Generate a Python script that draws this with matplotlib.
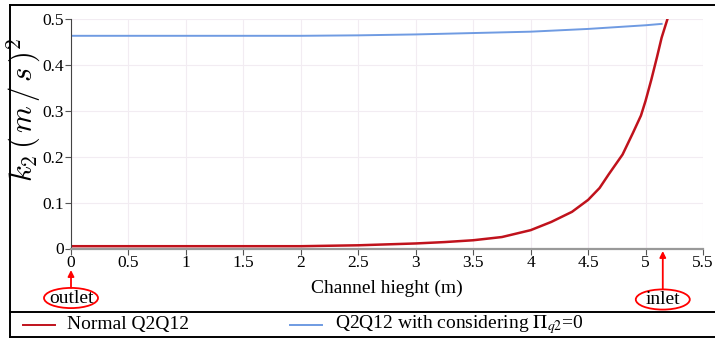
import matplotlib
matplotlib.use("Agg")
import matplotlib.pyplot as plt
from matplotlib.lines import Line2D
from matplotlib.patches import Ellipse

# Channel height (m) and turbulent quantity k2 for the two closures
height_normal = [0.0, 0.5, 1.0, 1.5, 2.0, 2.5, 3.0, 3.25, 3.5, 3.75, 4.0, 4.18,
                 4.36, 4.5, 4.6, 4.68, 4.8, 4.89, 4.96, 5.0, 5.05, 5.1, 5.14, 5.19]
k2_normal = [0.005, 0.005, 0.005, 0.005, 0.005, 0.007, 0.011, 0.014, 0.018, 0.025,
             0.040, 0.058, 0.080, 0.106, 0.132, 0.162, 0.205, 0.252, 0.290, 0.322,
             0.368, 0.418, 0.460, 0.500]

height_pi0 = [0.0, 0.5, 1.0, 1.5, 2.0, 2.5, 3.0, 3.5, 4.0, 4.5, 5.0, 5.14]
k2_pi0 = [0.464, 0.464, 0.464, 0.464, 0.464, 0.465, 0.467, 0.470, 0.473, 0.479,
          0.487, 0.490]

xticks = [0, 0.5, 1, 1.5, 2, 2.5, 3, 3.5, 4, 4.5, 5, 5.5]
xtick_labels = ["0", "0.5", "1", "1.5", "2", "2.5", "3", "3.5", "4", "4.5", "5", "5.5"]
yticks = [0, 0.1, 0.2, 0.3, 0.4, 0.5]
ytick_labels = ["0", "0.1", "0.2", "0.3", "0.4", "0.5"]

series_labels = ["Normal Q2Q12", r"Q2Q12 with considering $\Pi_{q2}$=0"]
red = "#c0121c"
blue = "#6f9be2"

plt.rcParams["font.family"] = ["Liberation Serif", "DejaVu Serif"]
plt.rcParams["mathtext.fontset"] = "stix"

W, H = 715, 342
fig = plt.figure(figsize=(W / 100, H / 100), dpi=100)

def fx(px):
    return px / W

def fy(py):
    return 1 - py / H

ax = fig.add_axes([fx(71), fy(248.5), fx(703) - fx(71), fy(19.3) - fy(248.5)])
ax.plot(height_normal, k2_normal, color=red, lw=1.8, solid_joinstyle="round")
ax.plot(height_pi0, k2_pi0, color=blue, lw=1.4)

ax.set_xlim(0, 5.5)
ax.set_ylim(0, 0.5)
ax.set_xticks(xticks)
ax.set_xticklabels(xtick_labels)
ax.set_yticks(yticks)
ax.set_yticklabels(ytick_labels)
ax.tick_params(axis="both", labelsize=12.5, direction="out", length=4,
               width=0.8, color="#555555", pad=1)
ax.grid(True, color="#f2ecf2", lw=0.8)
ax.set_axisbelow(True)
for s in ("top", "right"):
    ax.spines[s].set_visible(False)
ax.spines["left"].set_color("#444444")
ax.spines["bottom"].set_color("#999999")
ax.spines["bottom"].set_linewidth(1.6)

# Axis titles
fig.text(fx(24), fy(110), r"$k_2\,(\,m\,/\,s\,)^2$", rotation=90, ha="center",
         va="center", fontsize=22, math_fontfamily="cm")
ax.text(0.5, -0.172, "Channel hieght (m)", transform=ax.transAxes,
        ha="center", va="center", fontsize=14)

# Outlet / inlet markers below the axis
xt = ax.get_xaxis_transform()
for xpos, name, ycen, tip in [(0.0, "outlet", -0.216, -0.094), (5.15, "inlet", -0.2225, -0.011)]:
    ax.annotate("", xy=(xpos, tip), xytext=(xpos, ycen + 0.045), xycoords=xt,
                textcoords=xt, annotation_clip=False,
                arrowprops=dict(arrowstyle="-|>", color="red", lw=1.3,
                                mutation_scale=9, shrinkA=0, shrinkB=0))
    ax.add_patch(Ellipse((xpos, ycen), 0.47, 0.088, transform=xt, fill=False,
                         edgecolor="red", lw=1.3, clip_on=False))
    ax.text(xpos, ycen, name, transform=xt, ha="center", va="center", fontsize=14)

# Outer frame and legend strip
frame_kw = dict(color="black", lw=1.4, transform=fig.transFigure)
fig.add_artist(Line2D([fx(10), fx(10)], [fy(5), fy(336.5)], **frame_kw))
fig.add_artist(Line2D([fx(10), 1], [fy(5), fy(5)], **frame_kw))
fig.add_artist(Line2D([fx(10), 1], [fy(312), fy(312)], **frame_kw))
fig.add_artist(Line2D([fx(10), 1], [fy(336.5), fy(336.5)], **frame_kw))

fig.add_artist(Line2D([fx(23), fx(55)], [fy(324.5), fy(324.5)], color=red, lw=1.4,
                      transform=fig.transFigure))
fig.text(fx(67), fy(324.5), series_labels[0], ha="left", va="center", fontsize=14)
fig.add_artist(Line2D([fx(290), fx(322)], [fy(324.5), fy(324.5)], color=blue, lw=1.4,
                      transform=fig.transFigure))
fig.text(fx(335), fy(324.5), series_labels[1], ha="left", va="center", fontsize=14)

fig.savefig("out.png", dpi=100)
